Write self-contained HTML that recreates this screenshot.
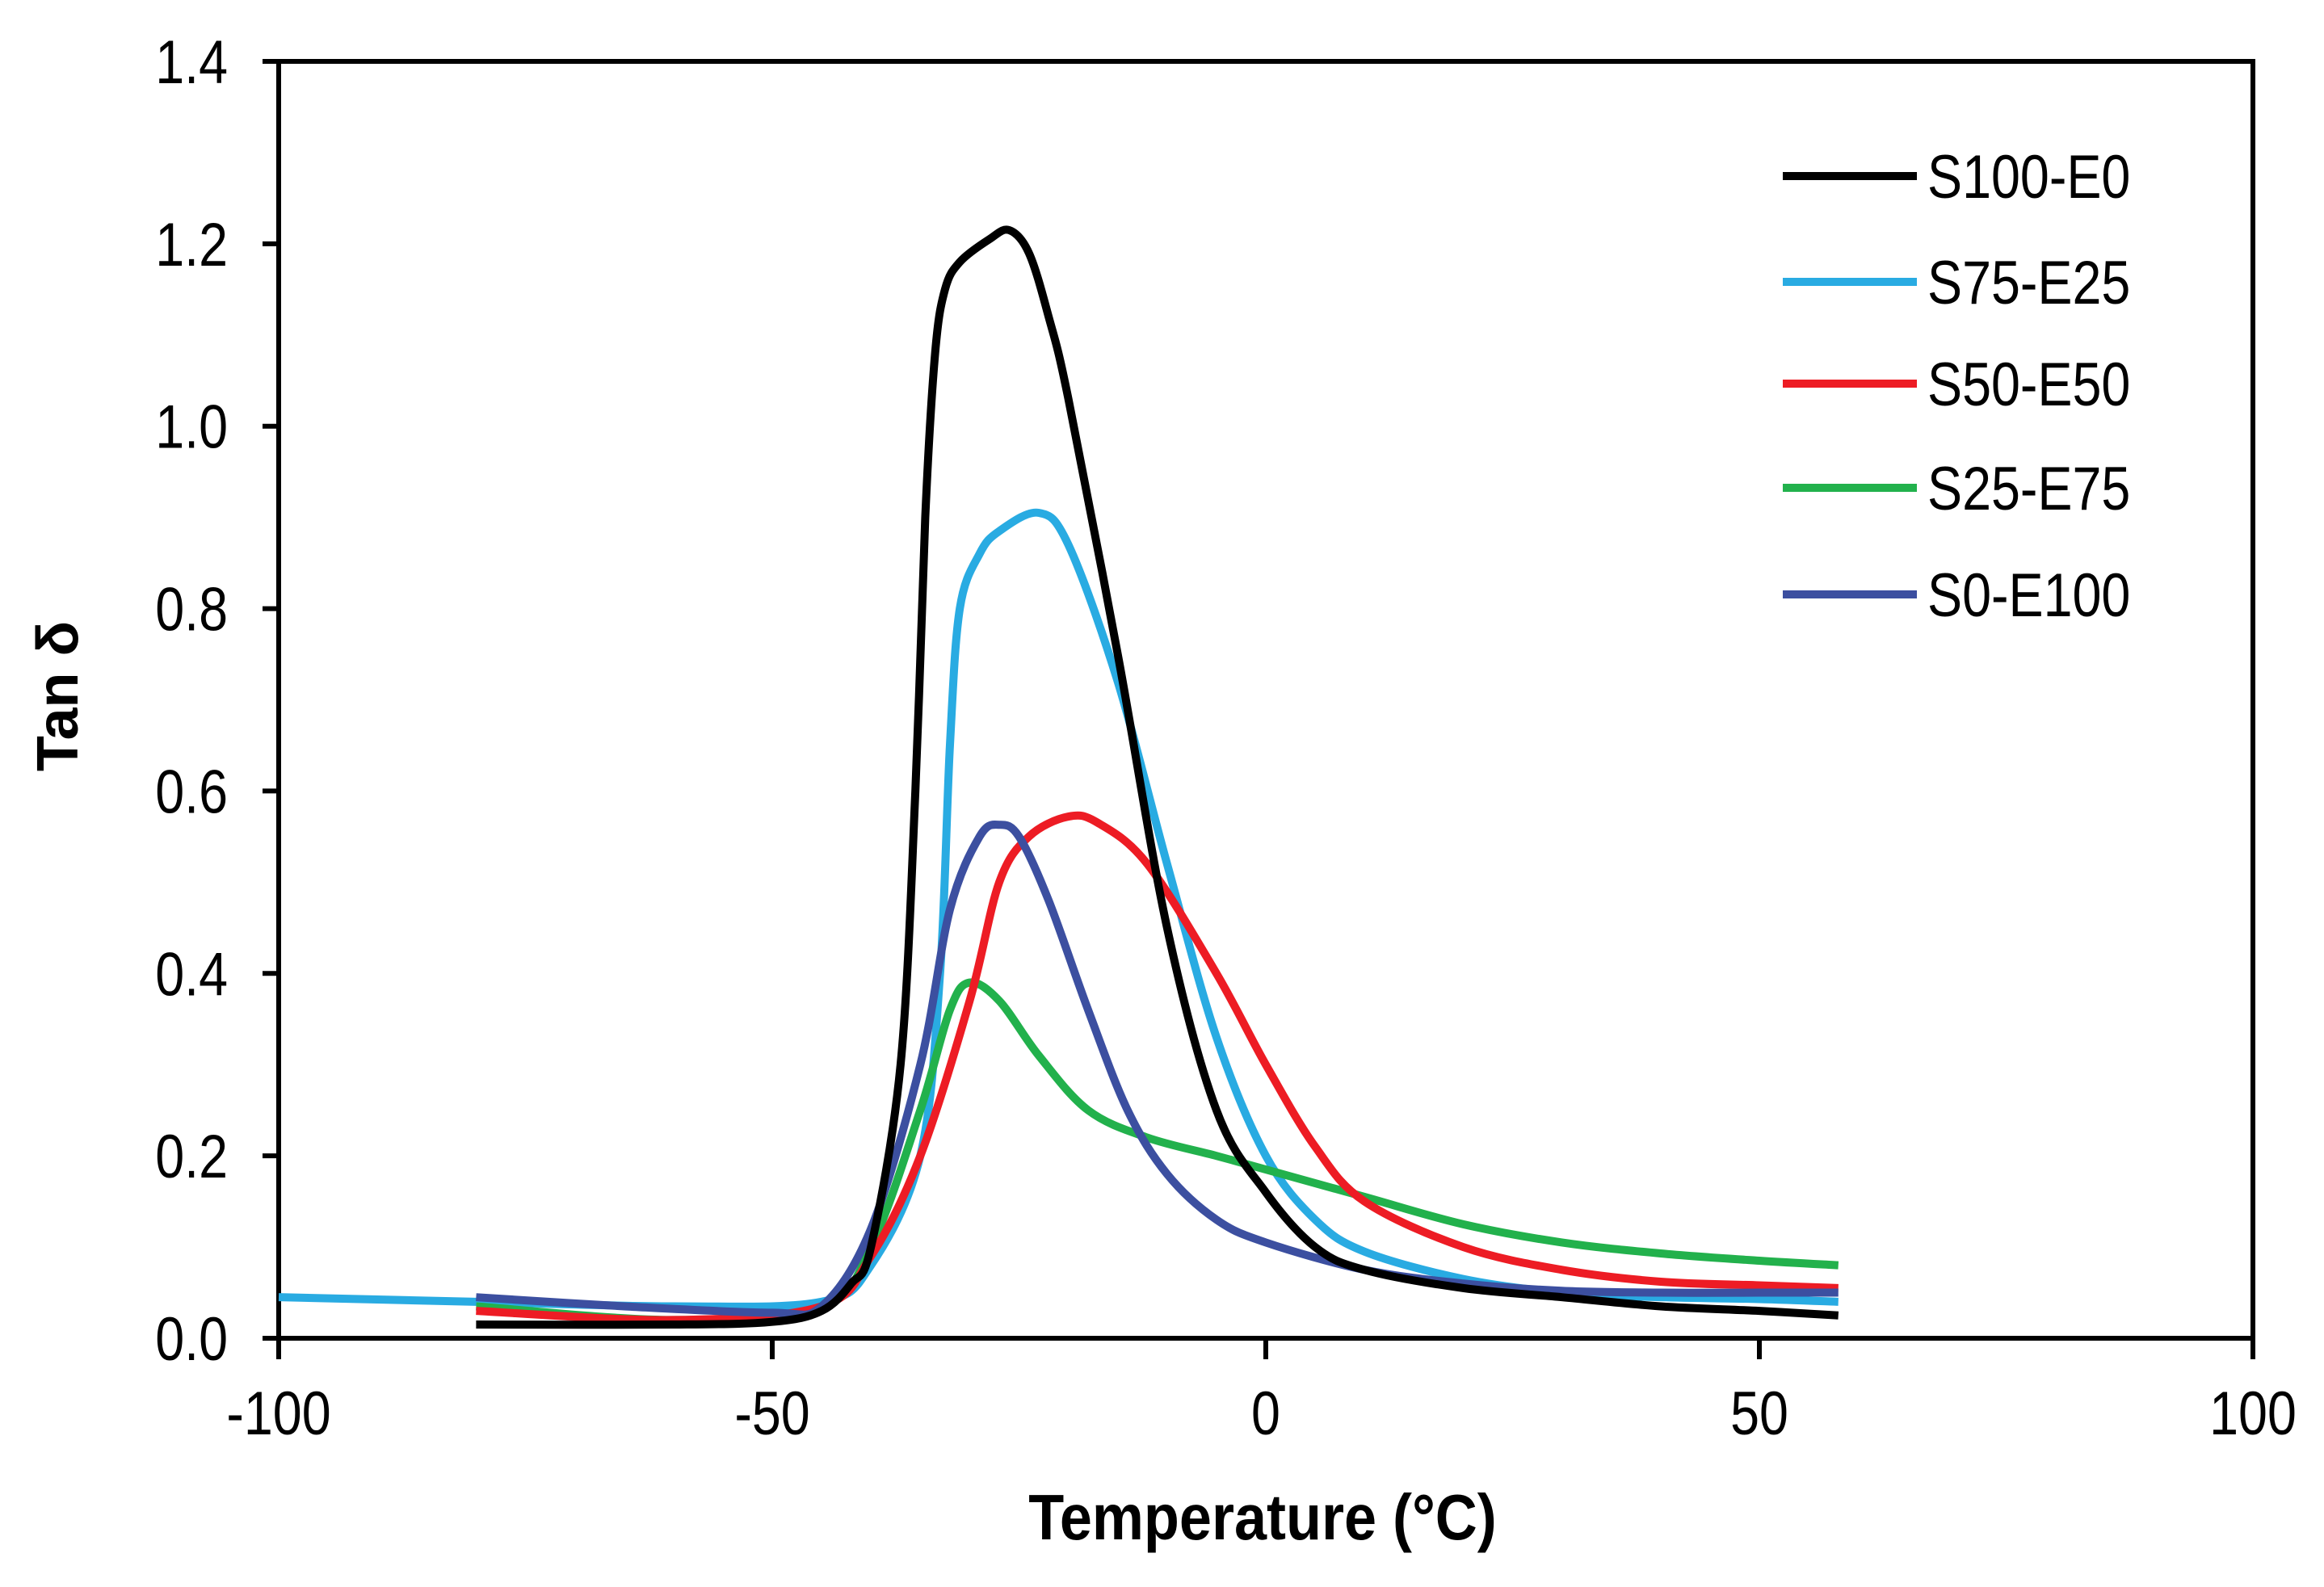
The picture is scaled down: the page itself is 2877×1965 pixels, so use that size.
<!DOCTYPE html>
<html><head><meta charset="utf-8"><style>
body{margin:0;background:#fff}
svg text{font-family:"Liberation Sans",sans-serif}
</style></head><body>
<svg id="chart" width="2877" height="1960" viewBox="0 0 2877 1960" xmlns="http://www.w3.org/2000/svg">
<g id="axes"></g>
<g id="series"></g>
<g id="legend"></g>
<text transform="translate(96,862) rotate(-90)" text-anchor="middle" font-size="72" font-weight="bold">Tan δ</text>
<text x="1563" y="1906" text-anchor="middle" font-size="80" font-weight="bold" transform="translate(1563,0) scale(0.9,1) translate(-1563,0)">Temperature (°C)</text>
</svg>
<script>
const xTicks=[-100,-50,0,50,100];
const yTicks=[0,0.2,0.4,0.6,0.8,1.0,1.2,1.4];
const yTickLabels=["0.0","0.2","0.4","0.6","0.8","1.0","1.2","1.4"];
const seriesNames=["S100-E0","S75-E25","S50-E50","S25-E75","S0-E100"];
const seriesColors=["#000000","#29abe2","#ed1c24","#22b14c","#3c4fa0"];
const tS100=[-80,-60,-50,-45,-42,-40,-37,-35.5,-34.5,-33.5,-32.5,-31,-28,-26,-24,-22,-20,-15,-10,-5,0,5,10,20,30,40,50,58];
const vS100=[0.015,0.015,0.018,0.03,0.06,0.1,0.3,0.6,0.9,1.08,1.15,1.18,1.205,1.215,1.19,1.12,1.03,0.75,0.45,0.25,0.16,0.1,0.075,0.055,0.045,0.035,0.03,0.025];
const tS75=[-100,-80,-60,-45,-40,-35,-33,-32,-31,-29,-27,-23,-20,-15,-10,-5,0,5,10,20,30,40,50,58];
const vS75=[0.045,0.04,0.035,0.04,0.08,0.2,0.4,0.65,0.8,0.86,0.885,0.905,0.87,0.72,0.52,0.33,0.2,0.13,0.095,0.065,0.05,0.045,0.043,0.04];
const tS50=[-80,-60,-45,-40,-35,-30,-27,-24,-20,-17,-12,-5,0,5,10,20,30,40,50,58];
const vS50=[0.03,0.02,0.035,0.09,0.2,0.37,0.5,0.55,0.572,0.565,0.52,0.4,0.3,0.21,0.15,0.1,0.075,0.062,0.058,0.055];
const tS25=[-80,-60,-45,-40,-35,-32,-30,-27,-23,-18,-12,-5,0,10,20,30,40,50,58];
const vS25=[0.035,0.02,0.035,0.1,0.25,0.36,0.39,0.37,0.31,0.25,0.22,0.2,0.185,0.155,0.125,0.105,0.093,0.085,0.08];
const tS0=[-80,-65,-50,-45,-40,-35,-32,-29,-27,-25,-22,-18,-14,-10,-5,0,10,20,30,40,50,58];
const vS0=[0.045,0.035,0.028,0.035,0.12,0.3,0.47,0.55,0.563,0.55,0.48,0.36,0.25,0.18,0.13,0.105,0.075,0.06,0.052,0.05,0.05,0.05];
const seriesT=[tS100,tS75,tS50,tS25,tS0];
const seriesV=[vS100,vS75,vS50,vS25,vS0];

const X0=345,X1=2789,Y0=1657,Y1=76;
const xs=t=>X0+(t+100)/200*(X1-X0);
const ys=v=>Y0-v/1.4*(Y0-Y1);
const NS="http://www.w3.org/2000/svg";
function mk(tag,parent,attrs){const e=document.createElementNS(NS,tag);for(const k in attrs)e.setAttribute(k,attrs[k]);parent.appendChild(e);return e;}

const axes=document.getElementById('axes');
let e=mk('rect',axes,{x:X0,y:Y1,width:X1-X0,height:Y0-Y1,fill:'none',stroke:'#000','stroke-width':6});


xTicks.forEach(t=>{
  let l=mk('line',axes,{x1:xs(t),x2:xs(t),y1:Y0,y2:Y0+26,stroke:'#000','stroke-width':6});
  
  
  let tx=mk('text',axes,{x:xs(t),y:1776,'text-anchor':'middle','font-size':76,transform:`translate(${xs(t)},0) scale(0.85,1) translate(${-xs(t)},0)`});
  tx.textContent=String(t);
  
  
});
yTicks.forEach((v,i)=>{
  let l=mk('line',axes,{x1:X0-20,x2:X0,y1:ys(v),y2:ys(v),stroke:'#000','stroke-width':6});
  
  
  let tx=mk('text',axes,{x:282,y:ys(v)+27,'text-anchor':'end','font-size':76,transform:`translate(282,0) scale(0.85,1) translate(-282,0)`});
  tx.textContent=yTickLabels[i];
  
  
});

function smooth(pts){
  let d=`M${pts[0][0]},${pts[0][1]}`;
  for(let i=0;i<pts.length-1;i++){
    const p0=pts[Math.max(0,i-1)],p1=pts[i],p2=pts[i+1],p3=pts[Math.min(pts.length-1,i+2)];
    const c1=[p1[0]+(p2[0]-p0[0])/6,p1[1]+(p2[1]-p0[1])/6];
    const c2=[p2[0]-(p3[0]-p1[0])/6,p2[1]-(p3[1]-p1[1])/6];
    d+=` C${c1[0]},${c1[1]} ${c2[0]},${c2[1]} ${p2[0]},${p2[1]}`;
  }
  return d;
}
const sg=document.getElementById('series');
const order=[1,3,2,4,0];
order.forEach(i=>{
  const pts=seriesT[i].map((t,j)=>[xs(t),ys(seriesV[i][j])]);
  let p=mk('path',sg,{d:smooth(pts),fill:'none',stroke:seriesColors[i],'stroke-width':10,'stroke-linejoin':'round'});
  
  
});
const lg=document.getElementById('legend');
const rowsY=[218,349,475,604,736];
seriesNames.forEach((n,i)=>{
  let l=mk('line',lg,{x1:2207,x2:2373,y1:rowsY[i],y2:rowsY[i],stroke:seriesColors[i],'stroke-width':10});
  
  
  let tx=mk('text',lg,{x:2386,y:rowsY[i]+27,'font-size':76,transform:`translate(2386,0) scale(0.85,1) translate(-2386,0)`});
  tx.textContent=n;
  
  
});
</script>
</body></html>
